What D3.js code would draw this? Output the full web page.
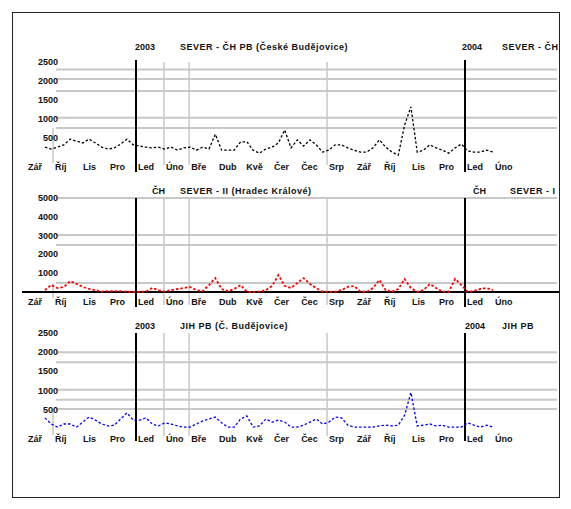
<!DOCTYPE html>
<html>
<head>
<meta charset="utf-8">
<script src="https://cdn.jsdelivr.net/npm/d3@7"></script>
<style>
  body { margin: 0; background: #fff; }
  text { font-family: "Liberation Sans", Arial, sans-serif; font-weight: bold; font-size: 9px; fill: #111; }
  text.caption { letter-spacing: 0.5px; }
</style>
</head>
<body>
<script>
// Month names (Czech, abbreviated), Sep 2002 – Feb 2004
const monthLabels = ["Zář", "Říj", "Lis", "Pro", "Led", "Úno", "Bře", "Dub", "Kvě", "Čer",
                     "Čec", "Srp", "Zář", "Říj", "Lis", "Pro", "Led", "Úno"];

// Weekly measurements, first week starting 22 Sep 2002
const firstWeek = new Date(2002, 8, 22);

const severValues = [260, 210, 260, 320, 470, 420, 370, 470, 370, 260,
                     210, 240, 340, 470, 320, 290, 260, 240, 260, 210,
                     260, 180, 240, 260, 180, 260, 210, 600, 180, 180,
                     180, 400, 400, 180, 100, 210, 260, 370, 710, 240,
                     450, 290, 450, 320, 130, 180, 320, 320, 240, 180,
                     130, 130, 240, 450, 260, 130, 50, 840, 1320, 130,
                     180, 320, 240, 180, 100, 240, 340, 160, 130, 130,
                     180, 130];

const chValues = [100, 370, 210, 270, 580, 430, 270, 160, 100, 20,
                  50, 50, 50, 20, 10, 10, 20, 210, 100, 20,
                  100, 160, 210, 270, 100, 50, 370, 740, 160, 50,
                  160, 370, 10, 10, 20, 100, 320, 900, 320, 210,
                  480, 740, 430, 210, 20, 10, 20, 100, 270, 320,
                  20, 10, 210, 640, 100, 20, 160, 690, 210, 10,
                  100, 430, 210, 20, 10, 700, 370, 10, 50, 160,
                  210, 100];

const jihValues = [290, 130, 50, 130, 130, 50, 180, 310, 230, 130,
                   80, 100, 260, 420, 230, 230, 290, 130, 80, 160,
                   130, 80, 50, 50, 130, 210, 260, 310, 160, 50,
                   50, 260, 340, 50, 80, 260, 180, 230, 180, 50,
                   50, 100, 180, 260, 130, 180, 310, 290, 100, 50,
                   50, 50, 50, 80, 100, 80, 100, 360, 950, 80,
                   100, 130, 80, 100, 50, 50, 50, 160, 100, 50,
                   100, 50];

// Axis ticks and reference levels per panel
const ticksSever = [2500, 2000, 1500, 1000, 500];
const ticksCh    = [5000, 4000, 3000, 2000, 1000];
const ticksJih   = [2500, 2000, 1500, 1000, 500];
const levelsSever = [2300, 2050, 1740, 1030, 760];
const levelsCh    = [5000, 3030, 2500, 480];
const levelsJih   = [2000, 1740, 1020, 760, 520];

// Year boundaries and marker dates
const years = [new Date(2003, 0, 1), new Date(2004, 0, 1)];
const markerDates = [new Date(2003, 1, 1), new Date(2003, 2, 1), new Date(2003, 7, 1)];
const startMarker = new Date(2002, 9, 1);

// Captions beside each year line
const headsSever = [["2003", "SEVER - ČH  PB (České Budějovice)"], ["2004", "SEVER - ČH"]];
const headsCh    = [["ČH", "SEVER  -  II  (Hradec Králové)"], ["ČH", "SEVER - I"]];
const headsJih   = [["2003", "JIH  PB  (Č. Budějovice)"], ["2004", "JIH  PB"]];

const panels = [
  { values: severValues, color: "#000", ticks: ticksSever, levels: levelsSever, max: 2500, heads: headsSever },
  { values: chValues,    color: "#f00", ticks: ticksCh,    levels: levelsCh,    max: 5000, heads: headsCh },
  { values: jihValues,   color: "#00f", ticks: ticksJih,   levels: levelsJih,   max: 2500, heads: headsJih }
];

// Layout of the three stacked panels
const layout = [
  { top: 62,  zero: 157, title: 50,  label: 170, lineTop: 60,  lineBottom: 172, greyBottom: 165, axis: false, headOffset: [[-1, 44], [-3, 37]] },
  { top: 198, zero: 292, title: 194, label: 305, lineTop: 198, lineBottom: 307, greyBottom: 305, axis: true,  headOffset: [[16, 44], [8, 45]] },
  { top: 333, zero: 429, title: 329, label: 442, lineTop: 333, lineBottom: 441, greyBottom: 436, axis: false, headOffset: [[-1, 44], [0, 37]] }
];

const W = 571, H = 509;
const frame = { x0: 12, y0: 12, x1: 559, y1: 497 };
const gridLeft = 56, gridRight = 557;

const svg = d3.select("body").append("svg").attr("width", W).attr("height", H);

svg.append("rect")
  .attr("x", frame.x0 + 0.5).attr("y", frame.y0 + 0.5)
  .attr("width", frame.x1 - frame.x0).attr("height", frame.y1 - frame.y0)
  .attr("fill", "#fff").attr("stroke", "#222").attr("stroke-width", 1);

const root = svg.append("g");

const x = d3.scaleTime()
  .domain([new Date(2002, 8, 1), new Date(2004, 0, 1)])
  .range([26, 465]);

const months = d3.timeMonth.range(new Date(2002, 8, 1), new Date(2004, 2, 1));
const weekDate = i => d3.timeDay.offset(firstWeek, 7 * i);

panels.forEach((p, k) => {
  const L = layout[k];
  const g = root.append("g");
  const y = d3.scaleLinear().domain([0, p.max]).range([L.zero, L.top]);

  // reference levels
  g.selectAll("line.level").data(p.levels).join("line")
    .attr("x1", gridLeft).attr("x2", gridRight)
    .attr("y1", d => y(d)).attr("y2", d => y(d))
    .attr("stroke", "#c8c8c8").attr("stroke-width", 2);

  // marker dates
  g.selectAll("line.marker").data(markerDates).join("line")
    .attr("x1", d => x(d)).attr("x2", d => x(d))
    .attr("y1", L.top).attr("y2", L.greyBottom)
    .attr("stroke", "#c8c8c8").attr("stroke-width", 1.5);

  g.append("line")
    .attr("x1", x(startMarker)).attr("x2", x(startMarker))
    .attr("y1", y(p.levels[p.levels.length - 1])).attr("y2", L.zero + 6)
    .attr("stroke", "#c8c8c8").attr("stroke-width", 1.5);

  // baseline axis (middle panel)
  if (L.axis) {
    g.append("line")
      .attr("x1", 22).attr("x2", frame.x1)
      .attr("y1", y(0)).attr("y2", y(0))
      .attr("stroke", "#000").attr("stroke-width", 2);
  }

  // y tick labels
  g.selectAll("text.ytick").data(p.ticks).join("text")
    .attr("x", 58).attr("y", d => y(d) + 3)
    .attr("text-anchor", "end")
    .text(d => d);

  // month labels
  g.selectAll("text.month").data(months).join("text")
    .attr("x", d => x(d) + 2).attr("y", L.label)
    .text((d, i) => monthLabels[i]);

  // year lines
  g.selectAll("line.year").data(years).join("line")
    .attr("x1", d => x(d)).attr("x2", d => x(d))
    .attr("y1", L.lineTop).attr("y2", L.lineBottom)
    .attr("stroke", "#000").attr("stroke-width", 2);

  // captions
  years.forEach((yr, j) => {
    const [a, b] = p.heads[j];
    const [oa, ob] = L.headOffset[j];
    g.append("text").attr("x", x(yr) + oa).attr("y", L.title).text(a);
    g.append("text").attr("class", "caption").attr("x", x(yr) + ob).attr("y", L.title).text(b);
  });

  // series
  const line = d3.line()
    .x((d, i) => x(weekDate(i)))
    .y(d => y(d));
  g.append("path")
    .datum(p.values)
    .attr("d", line)
    .attr("fill", "none")
    .attr("stroke", p.color)
    .attr("stroke-width", k === 1 ? 1.8 : 1.3)
    .attr("stroke-dasharray", "2.5,2");
});
</script>
</body>
</html>
